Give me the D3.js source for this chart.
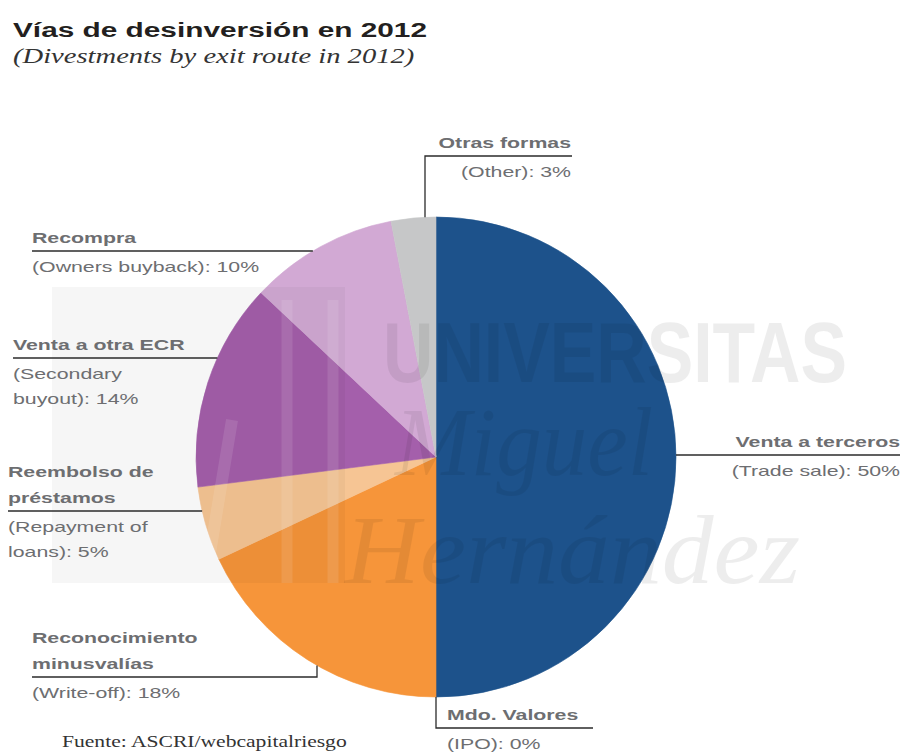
<!DOCTYPE html>
<html>
<head>
<meta charset="utf-8">
<script src="https://cdn.jsdelivr.net/npm/d3@7"></script>
<style>
  html, body { margin: 0; padding: 0; background: #ffffff; }
  svg { display: block; }
</style>
</head>
<body>
<svg id="chart" width="904" height="756"></svg>
<script>
// Exit routes (Spanish name, English name) and their share of divestments, 2012
const categories = ["Venta a terceros", "Mdo. Valores", "Reconocimiento\nminusvalías", "Reembolso de\npréstamos", "Venta a otra ECR", "Recompra", "Otras formas"];
const englishNames = ["Trade sale", "IPO", "Write-off", "Repayment of\nloans", "Secondary\nbuyout", "Owners buyback", "Other"];
const shares = [50, 0, 18, 5, 14, 10, 3];

const titleText = "Vías de desinversión en 2012";
const subtitleText = "(Divestments by exit route in 2012)";
const sourceText = "Fuente: ASCRI/webcapitalriesgo";

const svg = d3.select("#chart");
const cx = 436, cy = 457, R = 240;

const color = d3.scaleOrdinal()
  .domain(categories)
  .range(["#1d528b", "#1d528b", "#f6953a", "#f6c594", "#a45fab", "#d2a9d4", "#c6c7c8"]);

// Horizontally widened text, anchored at (x, y)
const SX = 1.42;
function wideText(g, str, x, y, opts) {
  return g.append("text")
    .attr("transform", `translate(${x},${y}) scale(${opts.sx || SX},1)`)
    .attr("text-anchor", opts.anchor || "start")
    .attr("font-family", opts.family || "'Liberation Sans', Arial, sans-serif")
    .attr("font-size", opts.size || 15)
    .attr("font-weight", opts.weight || "normal")
    .attr("font-style", opts.style || "normal")
    .attr("fill", opts.fill || "#6d6e71")
    .text(str);
}

// ---- Title block ----
wideText(svg, titleText, 13, 37, { size: 21, weight: "bold", fill: "#231f20", sx: 1.42 });
wideText(svg, subtitleText, 13, 63, { size: 20, style: "italic", family: "'Liberation Serif', 'Times New Roman', serif", fill: "#333333", sx: 1.43 });

// ---- Pie ----
const pie = d3.pie().sort(null).value(d => d)
  .startAngle(0).endAngle(2 * Math.PI);
const arcs = pie(shares);
const arc = d3.arc().innerRadius(0).outerRadius(R);

const pieG = svg.append("g").attr("transform", `translate(${cx},${cy})`);
pieG.selectAll("path.slice")
  .data(arcs)
  .join("path")
  .attr("class", "slice")
  .attr("d", arc)
  .attr("fill", (d, i) => color(categories[i]))
  .attr("stroke", (d, i) => color(categories[i]))
  .attr("stroke-width", 0.6);

// ---- Watermark ----
const wm = svg.append("g").attr("pointer-events", "none");
wm.append("rect").attr("x", 52).attr("y", 287).attr("width", 293).attr("height", 296)
  .attr("fill", "#000").attr("opacity", 0.035);
[[178, 430, 150, 583, 14], [232, 420, 205, 583, 12], [287, 300, 287, 583, 11], [333, 300, 333, 583, 11]]
  .forEach(([x1, y1, x2, y2, w]) => {
    wm.append("line").attr("x1", x1).attr("y1", y1).attr("x2", x2).attr("y2", y2)
      .attr("stroke", "#fff").attr("stroke-width", w).attr("opacity", 0.1);
  });
wm.append("text").attr("x", 383).attr("y", 382)
  .attr("font-family", "'Liberation Sans', Arial, sans-serif").attr("font-weight", "bold")
  .attr("font-size", 86).attr("textLength", 464).attr("lengthAdjust", "spacingAndGlyphs")
  .attr("fill", "#000").attr("opacity", 0.065).text("UNIVERSITAS");
wm.append("text").attr("x", 395).attr("y", 475)
  .attr("font-family", "'Liberation Serif', 'Times New Roman', serif").attr("font-style", "italic")
  .attr("font-size", 98).attr("textLength", 258).attr("lengthAdjust", "spacingAndGlyphs")
  .attr("fill", "#000").attr("opacity", 0.065).text("Miguel");
wm.append("text").attr("x", 345).attr("y", 583)
  .attr("font-family", "'Liberation Serif', 'Times New Roman', serif").attr("font-style", "italic")
  .attr("font-size", 98).attr("textLength", 455).attr("lengthAdjust", "spacingAndGlyphs")
  .attr("fill", "#000").attr("opacity", 0.065).text("Hernández");

// ---- Callout labels ----
// Placement of each callout: text anchor, first baseline, and leader style
const layout = [
  { x: 900, y: 447, anchor: "end", leader: "side", ruleTo: 900 },
  { x: 447, y: 720, anchor: "start", leader: "elbow", elbowX: "slice", ruleTo: 593, dir: 1 },
  { x: 32, y: 643, anchor: "start", leader: "elbow", elbowX: 317, ruleTo: 32, dir: 1 },
  { x: 8, y: 477, anchor: "start", leader: "side", ruleTo: 8 },
  { x: 13, y: 350, anchor: "start", leader: "side", ruleTo: 13 },
  { x: 32, y: 243, anchor: "start", leader: "side", ruleTo: 32 },
  { x: 571, y: 148, anchor: "end", leader: "elbow", elbowX: 425, ruleTo: 572, dir: -1 }
];

const labelG = svg.append("g");
const leaderG = svg.append("g").attr("stroke", "#2b2b2b").attr("stroke-width", 1.3).attr("fill", "none");
const LINE = 26, RULE_GAP = 8, EN_GAP = 21, EN_LINE = 25;

layout.forEach((L, i) => {
  const esLines = categories[i].split("\n");
  const enLines = (`(${englishNames[i]}): ${shares[i]}%`).split("\n");
  esLines.forEach((s, k) => wideText(labelG, s, L.x, L.y + k * LINE, { anchor: L.anchor, weight: "bold" }));
  const ruleY = L.y + (esLines.length - 1) * LINE + RULE_GAP;
  enLines.forEach((s, k) => wideText(labelG, s, L.x, ruleY + EN_GAP + k * EN_LINE, { anchor: L.anchor }));

  if (L.leader === "side") {
    // horizontal rule meeting the circle at the rule's height
    const dx = Math.sqrt(R * R - (ruleY - cy) * (ruleY - cy));
    const edgeX = L.anchor === "end" ? cx + dx : cx - dx;
    leaderG.append("line").attr("x1", L.ruleTo).attr("y1", ruleY).attr("x2", edgeX).attr("y2", ruleY);
  } else {
    // rule plus a vertical drop/rise to the circle
    const ex = L.elbowX === "slice" ? cx + R * Math.sin(arcs[i].startAngle) : L.elbowX;
    const dy = Math.sqrt(R * R - (ex - cx) * (ex - cx));
    const edgeY = L.dir > 0 ? cy + dy : cy - dy;
    leaderG.append("path").attr("d", `M${L.ruleTo},${ruleY}H${ex}V${edgeY}`);
  }
});

// ---- Source ----
wideText(svg, sourceText, 62, 747, { size: 17, family: "'Liberation Serif', 'Times New Roman', serif", fill: "#333333", sx: 1.27 });
</script>
</body>
</html>
